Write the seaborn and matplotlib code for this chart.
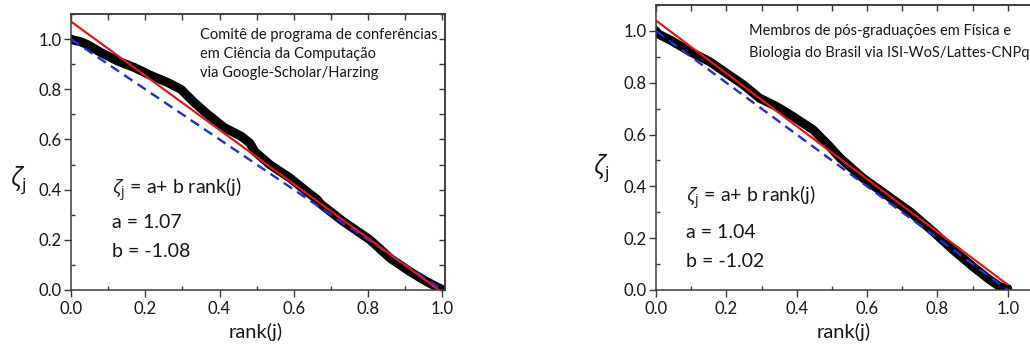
import numpy as np
import pandas as pd
import matplotlib
matplotlib.use("Agg")
import matplotlib.pyplot as plt
from matplotlib.ticker import MultipleLocator
import seaborn as sns

# ---------------- data ----------------
rank_left = [0.0, 0.004, 0.025, 0.044, 0.08, 0.125, 0.17, 0.215, 0.26, 0.296, 0.332, 0.368,
             0.413, 0.458, 0.482, 0.494, 0.535, 0.589, 0.643, 0.662, 0.672, 0.733,
             0.805, 0.859, 0.913, 0.958, 0.998]
zeta_left = [1.0, 0.997, 0.99, 0.978, 0.947, 0.913, 0.887, 0.855, 0.827, 0.8, 0.747, 0.7,
             0.647, 0.613, 0.585, 0.553, 0.5, 0.447, 0.383, 0.362, 0.343, 0.273,
             0.2, 0.127, 0.073, 0.033, 0.003]
rank_right = [0.0, 0.002, 0.04, 0.097, 0.153, 0.2, 0.248, 0.295, 0.343, 0.39, 0.447,
              0.494, 0.523, 0.589, 0.655, 0.722, 0.788, 0.845, 0.901, 0.949, 0.977, 1.0]
zeta_right = [1.0, 0.991, 0.965, 0.92, 0.881, 0.837, 0.792, 0.74, 0.708, 0.669, 0.618,
              0.553, 0.51, 0.431, 0.367, 0.302, 0.225, 0.154, 0.09, 0.039, 0.013, 0.005]
fit_left = (1.07, -1.08)
fit_right = (1.04, -1.02)
ref_x = [0.0, 1.0]
ref_y = [1.0, 0.0]
note_left = ["Comitê de programa de conferências", "em Ciência da Computação",
             "via Google-Scholar/Harzing"]
note_right = ["Membros de pós-graduações em Física e",
              "Biologia do Brasil via ISI-WoS/Lattes-CNPq"]
ticks = [0.0, 0.2, 0.4, 0.6, 0.8, 1.0]
tick_labels = ["0.0", "0.2", "0.4", "0.6", "0.8", "1.0"]

# ---------------- style ----------------
sns.set_style("ticks")
FONT = "Lato"
plt.rcParams["font.family"] = [FONT, "Open Sans", "DejaVu Sans"]
plt.rcParams["mathtext.fontset"] = "custom"
plt.rcParams["mathtext.rm"] = "Open Sans"
plt.rcParams["mathtext.it"] = "Open Sans:italic"
plt.rcParams["axes.edgecolor"] = "#3a3a3a"
plt.rcParams["axes.linewidth"] = 1.1
TXT = "#161616"

W, H = 1030, 345
fig = plt.figure(figsize=(W / 100, H / 100), dpi=100)


def px(x, y):
    return x / W, 1 - y / H


def make_axes(left, right, top, bottom, xmax):
    ax = fig.add_axes([left / W, 1 - bottom / H, (right - left) / W, (bottom - top) / H])
    ax.set_xlim(0, xmax)
    ax.set_ylim(0, 1.1)
    ax.set_xticks(ticks)
    ax.set_xticklabels(tick_labels)
    ax.set_yticks(ticks)
    ax.set_yticklabels(tick_labels)
    ax.xaxis.set_minor_locator(MultipleLocator(0.1))
    ax.yaxis.set_minor_locator(MultipleLocator(0.1))
    ax.tick_params(which="major", direction="out", length=5, width=1.0,
                   color="#3a3a3a", labelsize=12, labelcolor=TXT)
    ax.tick_params(axis="x", which="major", pad=3)
    ax.tick_params(axis="y", which="major", pad=2)
    ax.tick_params(which="minor", direction="in", length=3, width=1.0, color="#3a3a3a")
    for sp in ax.spines.values():
        sp.set_visible(True)
    top_ax = ax.secondary_xaxis("top")
    top_ax.set_xticks(np.array(ticks))
    top_ax.xaxis.set_minor_locator(MultipleLocator(0.1))
    top_ax.tick_params(which="both", direction="in", length=4, width=1.0,
                       color="#3a3a3a", labeltop=False)
    right_ax = ax.secondary_yaxis("right")
    right_ax.set_yticks(np.array(ticks))
    right_ax.yaxis.set_minor_locator(MultipleLocator(0.1))
    right_ax.tick_params(which="both", direction="in", length=4, width=1.0,
                         color="#3a3a3a", labelright=False)
    return ax


def draw(ax, rx, zy, fit):
    sns.lineplot(x=rx, y=zy, ax=ax, sort=False, color="black", lw=6.5,
                 solid_capstyle="round", solid_joinstyle="round")
    sns.lineplot(x=ref_x, y=ref_y, ax=ax, sort=False, color="#1f2fd0", lw=1.7)
    ax.lines[-1].set_dashes((4.2, 2.6))
    fx = np.array(ref_x)
    sns.lineplot(x=fx, y=fit[0] + fit[1] * fx, ax=ax, sort=False, color="#e0191c", lw=1.6)
    ax.set_xlabel("")
    ax.set_ylabel("")


axL = make_axes(71, 445, 14, 290, 1.007)
draw(axL, rank_left, zeta_left, fit_left)
axR = make_axes(656, 1043, 5, 290, 1.1)
draw(axR, rank_right, zeta_right, fit_right)

# notes
for txt, yb in zip(note_left, [38.5, 57.7, 76.7]):
    fig.text(*px(200, yb), txt, fontsize=10.5, va="baseline", ha="left", color=TXT)
for txt, yb in zip(note_right, [35.5, 56.7]):
    fig.text(*px(749, yb), txt, fontsize=10.5, va="baseline", ha="left", color=TXT)


# formulas
def formula(x, ys, a, b):
    fig.text(*px(x, ys[0]), r"$\zeta_{\mathrm{j}}$ = a+ b rank(j)", fontsize=14,
             va="baseline", ha="left", color=TXT)
    fig.text(*px(x, ys[1]), f"a = {a:.2f}", fontsize=14, va="baseline", ha="left",
             color=TXT)
    fig.text(*px(x, ys[2]), f"b = {b:.2f}", fontsize=14, va="baseline", ha="left",
             color=TXT)


formula(111.5, [195, 228.3, 256.7], *fit_left)
formula(686.5, [203.3, 238.3, 266.7], *fit_right)

# axis labels
for cx in [256, 844]:
    fig.text(*px(cx, 338), "rank(j)", fontsize=14.5, va="baseline", ha="center",
             color=TXT)
fig.text(*px(18, 180), r"$\zeta_{\mathrm{j}}$", fontsize=18, va="center", ha="center",
         color=TXT)
fig.text(*px(601, 168), r"$\zeta_{\mathrm{j}}$", fontsize=18, va="center", ha="center",
         color=TXT)

fig.savefig("out.png", dpi=100)
